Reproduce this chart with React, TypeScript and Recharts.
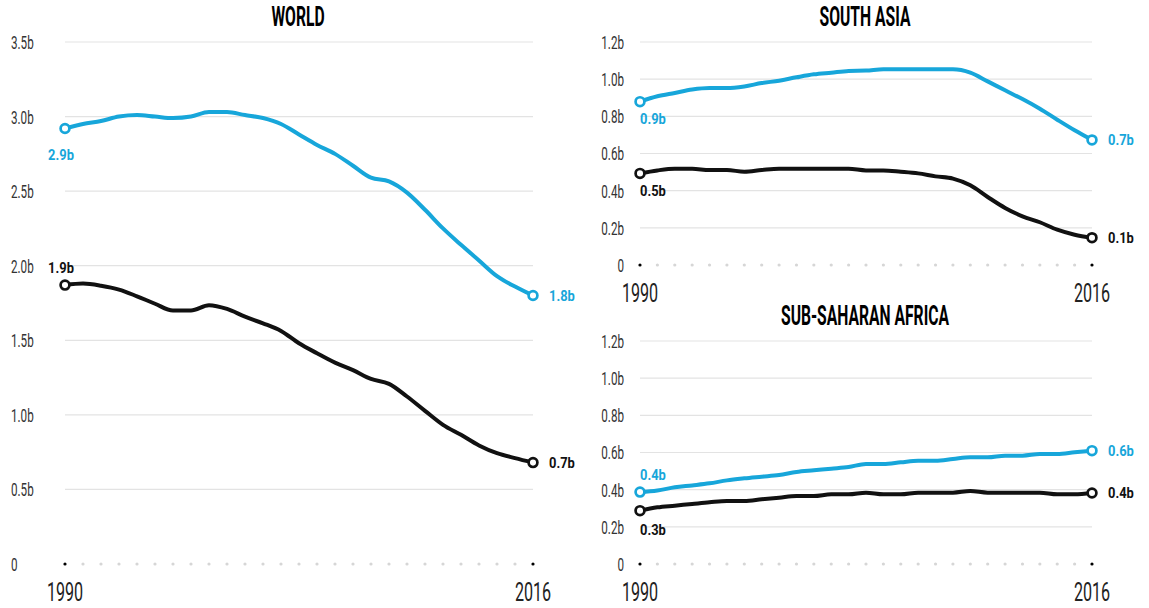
import React from "react";
import { LineChart, Line, XAxis, YAxis, ReferenceLine } from "recharts";

// one point per year
const years = [
  1990, 1991, 1992, 1993, 1994, 1995, 1996, 1997, 1998, 1999, 2000, 2001, 2002, 2003,
  2004, 2005, 2006, 2007, 2008, 2009, 2010, 2011, 2012, 2013, 2014, 2015, 2016,
];

// billions of people, upper (blue) and lower (black) poverty line
const worldUpper = [
  2.92, 2.95, 2.97, 3.0, 3.01, 3.0, 2.99, 3.0, 3.03, 3.03, 3.01, 2.99, 2.95, 2.88,
  2.81, 2.75, 2.67, 2.59, 2.565, 2.49, 2.375, 2.25, 2.14, 2.035, 1.93, 1.86, 1.8,
];
const worldLower = [
  1.87, 1.88, 1.866, 1.84, 1.795, 1.745, 1.7, 1.7, 1.735, 1.71, 1.658, 1.614, 1.563, 1.48,
  1.413, 1.35, 1.3, 1.241, 1.208, 1.123, 1.027, 0.933, 0.866, 0.795, 0.743, 0.71, 0.68,
];
const southAsiaUpper = [
  0.879, 0.908, 0.926, 0.944, 0.952, 0.952, 0.961, 0.979, 0.992, 1.01, 1.026, 1.035, 1.044, 1.046,
  1.053, 1.053, 1.053, 1.053, 1.053, 1.035, 0.988, 0.94, 0.893, 0.841, 0.782, 0.725, 0.673,
];
const southAsiaLower = [
  0.493, 0.509, 0.518, 0.518, 0.511, 0.511, 0.502, 0.511, 0.518, 0.518, 0.518, 0.518, 0.518, 0.509,
  0.509, 0.502, 0.493, 0.477, 0.465, 0.429, 0.366, 0.307, 0.262, 0.23, 0.19, 0.163, 0.147,
];
const ssaUpper = [
  0.387, 0.395, 0.413, 0.423, 0.434, 0.45, 0.461, 0.47, 0.479, 0.495, 0.504, 0.513, 0.522, 0.538,
  0.538, 0.547, 0.556, 0.556, 0.565, 0.574, 0.574, 0.583, 0.583, 0.592, 0.592, 0.601, 0.61,
];
const ssaLower = [
  0.287, 0.305, 0.314, 0.323, 0.332, 0.339, 0.339, 0.348, 0.357, 0.366, 0.366, 0.375, 0.375, 0.384,
  0.375, 0.375, 0.384, 0.384, 0.384, 0.393, 0.384, 0.384, 0.384, 0.384, 0.375, 0.375, 0.382,
];

const worldTicks = [0, 0.5, 1, 1.5, 2, 2.5, 3, 3.5];
const regionTicks = [0, 0.2, 0.4, 0.6, 0.8, 1.0, 1.2];
const yearTicks = [1990, 2016];

const BLUE = "#17a6da";
const INK = "#111";
const FONT = "Roboto, 'Liberation Sans', sans-serif";

const fmtB = (v: number) => (v === 0 ? "0" : `${v.toFixed(1)}b`);

function rows(upper: number[], lower: number[]) {
  return years.map((year, i) => ({ year, upper: upper[i], lower: lower[i], base: 0 }));
}

// no condensed face installed, so squeeze Roboto horizontally
function SText(p: {
  x: number;
  y: number;
  sx: number;
  size: number;
  anchor: "start" | "middle" | "end";
  fill: string;
  weight?: number;
  children: React.ReactNode;
}) {
  return (
    <text
      transform={`translate(${p.x},${p.y}) scale(${p.sx},1)`}
      textAnchor={p.anchor}
      dominantBaseline="central"
      fontFamily={FONT}
      fontSize={p.size}
      fontWeight={p.weight ?? 400}
      fill={p.fill}
    >
      {p.children}
    </text>
  );
}

type StartLabel = { dy: number; dx: number; anchor: "start" | "middle" };

function endDot(color: string, key: string, last: number, start: StartLabel) {
  return (p: any) => {
    const { cx, cy, index, payload } = p;
    if (index !== 0 && index !== last) return <g key={`d-${index}`} />;
    const isStart = index === 0;
    return (
      <g key={`d-${index}`}>
        <circle cx={cx} cy={cy} r={4.4} fill="#fff" stroke={color} strokeWidth={2.7} />
        <SText
          x={isStart ? cx + start.dx : cx + 16}
          y={isStart ? cy + start.dy : cy}
          sx={0.86}
          size={15}
          weight={700}
          anchor={isStart ? start.anchor : "start"}
          fill={color}
        >
          {fmtB(payload[key])}
        </SText>
      </g>
    );
  };
}

function baseDot(last: number) {
  return (p: any) => {
    const end = p.index === 0 || p.index === last;
    return (
      <circle key={`b-${p.index}`} cx={p.cx} cy={p.cy} r={1.6} fill={end ? "#000" : "#d6d6d6"} />
    );
  };
}

type PanelProps = {
  title: string;
  titleX: number;
  titleY: number;
  left: number;
  top: number;
  width: number;
  height: number;
  marginTop: number;
  marginRight: number;
  yWidth: number;
  xHeight: number;
  tickX: number;
  tickAnchor: "start" | "end";
  ticks: number[];
  data: ReturnType<typeof rows>;
  upperStart: StartLabel;
  lowerStart: StartLabel;
};

function Panel(props: PanelProps) {
  const last = props.data.length - 1;
  const plotBottom = props.height - props.xHeight;
  const top = props.ticks[props.ticks.length - 1];
  return (
    <div style={{ position: "absolute", left: props.left, top: props.top, width: props.width, height: props.height }}>
      <div
        style={{
          position: "absolute",
          left: props.titleX,
          top: props.titleY,
          transform: "translate(-50%, -50%) scaleX(0.58)",
          fontFamily: FONT,
          fontWeight: 700,
          fontSize: 27,
          color: "#000",
          whiteSpace: "nowrap",
          lineHeight: 1,
        }}
      >
        {props.title}
      </div>
      <LineChart
        width={props.width}
        height={props.height}
        data={props.data}
        margin={{ top: props.marginTop, right: props.marginRight, bottom: 0, left: 0 }}
      >
        <XAxis
          dataKey="year"
          type="number"
          domain={[1990, 2016]}
          ticks={yearTicks}
          height={props.xHeight}
          axisLine={false}
          tickLine={false}
          tick={(t: any) => (
            <SText key={`x-${t.payload.value}`} x={t.x} y={plotBottom + 28} sx={0.62} size={26} anchor="middle" fill="#222">
              {t.payload.value}
            </SText>
          )}
        />
        <YAxis
          type="number"
          domain={[0, top]}
          ticks={props.ticks}
          width={props.yWidth}
          axisLine={false}
          tickLine={false}
          tick={(t: any) => (
            <SText key={`y-${t.payload.value}`} x={props.tickX} y={t.y + 1} sx={0.63} size={18.5} anchor={props.tickAnchor} fill="#333">
              {fmtB(t.payload.value)}
            </SText>
          )}
        />
        {props.ticks
          .filter((v) => v > 0)
          .map((v) => (
            <ReferenceLine key={v} y={v} stroke="#e3e3e3" strokeWidth={1.2} />
          ))}
        <Line dataKey="base" stroke="none" dot={baseDot(last)} activeDot={false} isAnimationActive={false} />
        <Line
          type="monotone"
          dataKey="lower"
          stroke={INK}
          strokeWidth={4}
          dot={endDot(INK, "lower", last, props.lowerStart)}
          activeDot={false}
          isAnimationActive={false}
        />
        <Line
          type="monotone"
          dataKey="upper"
          stroke={BLUE}
          strokeWidth={4}
          dot={endDot(BLUE, "upper", last, props.upperStart)}
          activeDot={false}
          isAnimationActive={false}
        />
      </LineChart>
    </div>
  );
}

export default function App() {
  return (
    <div style={{ position: "absolute", left: 0, top: 0, width: 1149, height: 608, background: "#fff" }}>
      <Panel
        title="WORLD"
        titleX={298}
        titleY={17}
        left={0}
        top={0}
        width={600}
        height={608}
        marginTop={42}
        marginRight={67}
        yWidth={65}
        xHeight={44}
        tickX={11}
        tickAnchor="start"
        ticks={worldTicks}
        data={rows(worldUpper, worldLower)}
        upperStart={{ dx: -4, dy: 26, anchor: "middle" }}
        lowerStart={{ dx: -4, dy: -17.5, anchor: "middle" }}
      />
      <Panel
        title="SOUTH ASIA"
        titleX={285}
        titleY={17}
        left={580}
        top={0}
        width={569}
        height={312}
        marginTop={42}
        marginRight={57}
        yWidth={60}
        xHeight={47}
        tickX={44}
        tickAnchor="end"
        ticks={regionTicks}
        data={rows(southAsiaUpper, southAsiaLower)}
        upperStart={{ dx: 0, dy: 17, anchor: "start" }}
        lowerStart={{ dx: 0, dy: 17, anchor: "start" }}
      />
      <Panel
        title="SUB-SAHARAN AFRICA"
        titleX={285}
        titleY={16}
        left={580}
        top={300}
        width={569}
        height={308}
        marginTop={41}
        marginRight={57}
        yWidth={60}
        xHeight={44}
        tickX={44}
        tickAnchor="end"
        ticks={regionTicks}
        data={rows(ssaUpper, ssaLower)}
        upperStart={{ dx: 0, dy: -17, anchor: "start" }}
        lowerStart={{ dx: 0, dy: 19, anchor: "start" }}
      />
    </div>
  );
}
